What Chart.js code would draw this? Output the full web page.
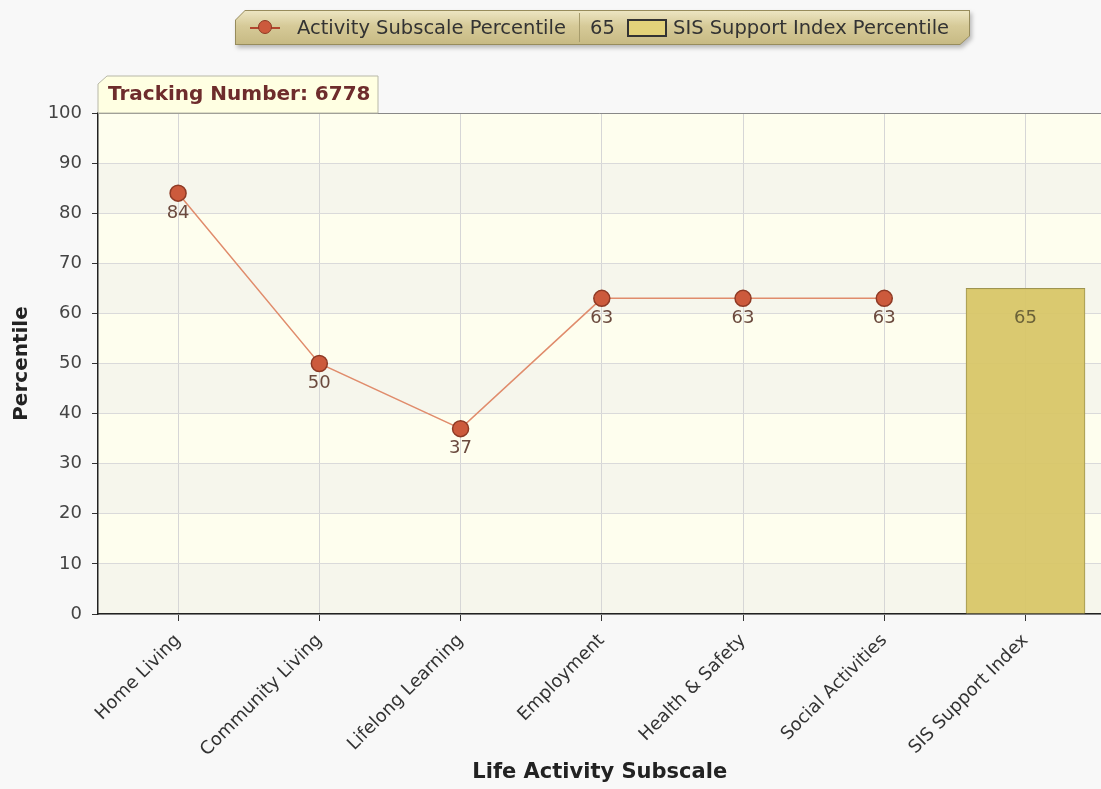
<!DOCTYPE html>
<html>
<head>
<meta charset="utf-8">
<script src="https://cdn.jsdelivr.net/npm/chart.js@4/dist/chart.umd.min.js"></script>
<style>
  body { margin: 0; background: #f8f8f8; font-family: "DejaVu Sans", sans-serif; overflow: hidden; }
  #wrap { position: relative; width: 1101px; height: 789px; overflow: hidden; }
  #lgshadow { position: absolute; left: 235px; top: 10px; width: 735px; height: 35px; filter: drop-shadow(2px 3px 2px rgba(0,0,0,0.25)); }
  #lgouter {
    position: absolute; left: 0; top: 0; width: 735px; height: 35px; background: #978c5c;
    clip-path: polygon(10px 0, 100% 0, 100% 26px, 725px 100%, 0 100%, 0 10px);
  }
  #legend {
    position: absolute; left: 1px; top: 1px; width: 733px; height: 33px;
    background: linear-gradient(#ece5c2, #d6ca98 45%, #c7ba84);
    clip-path: polygon(9px 0, 100% 0, 100% 25px, 724px 100%, 0 100%, 0 9px);
    color: #333; font-size: 19.5px; line-height: 33px; white-space: nowrap;
  }
  #legend span { position: absolute; top: 0; }
  #legend .sep { position: absolute; top: 2px; left: 343px; width: 1px; height: 29px; background: #a79c6c; }
  #legend .mline { position: absolute; top: 16px; left: 14px; width: 30px; height: 2px; background: #b0472e; }
  #legend .mdot { position: absolute; top: 9px; left: 22px; width: 14px; height: 14px; border-radius: 50%; background: #cc5a3c; border: 1px solid #8e3a25; box-sizing: border-box; }
  #legend .box { position: absolute; top: 8px; left: 391px; width: 36px; height: 14px; background: #e3d27a; border: 2px solid #333; }
</style>
</head>
<body>
<div id="wrap">
  <canvas id="chart" width="1111" height="789"></canvas>
  <div id="lgshadow"><div id="lgouter"><div id="legend"></div></div></div>
</div>
<script>
var categories = ['Home Living', 'Community Living', 'Lifelong Learning', 'Employment', 'Health & Safety', 'Social Activities', 'SIS Support Index'];
var activityValues = [84, 50, 37, 63, 63, 63];
var supportIndexValue = 65;
var yTicks = [0, 10, 20, 30, 40, 50, 60, 70, 80, 90, 100];
var trackingText = 'Tracking Number: 6778';
var lineLabel = 'Activity Subscale Percentile';
var barLabel = 'SIS Support Index Percentile';

var FONT = '"DejaVu Sans", sans-serif';

// legend (html)
var lg = document.getElementById('legend');
lg.innerHTML =
  '<div class="mline"></div><div class="mdot"></div>' +
  '<span style="left:61px">' + lineLabel + '</span>' +
  '<div class="sep"></div>' +
  '<span style="left:354px">' + supportIndexValue + '</span>' +
  '<div class="box"></div>' +
  '<span style="left:437px">' + barLabel + '</span>';

var linePoints = activityValues.map(function (v, i) { return { x: i, y: v }; });
var barPoints = [{ x: categories.length - 1, y: supportIndexValue }];

var decor = {
  id: 'decor',
  beforeDraw: function (chart) {
    var ctx = chart.ctx, a = chart.chartArea, y = chart.scales.y;
    ctx.save();
    ctx.fillStyle = '#f8f8f8';
    ctx.fillRect(0, 0, chart.width, chart.height);
    for (var i = 0; i < yTicks.length - 1; i++) {
      var top = y.getPixelForValue(yTicks[i + 1]);
      var bot = y.getPixelForValue(yTicks[i]);
      ctx.fillStyle = (i % 2 === 1) ? '#fefeee' : '#f6f6ec';
      ctx.fillRect(a.left, top, a.right - a.left, bot - top);
    }
    ctx.restore();
  },
  afterDraw: function (chart) {
    var ctx = chart.ctx, a = chart.chartArea;
    ctx.save();
    ctx.strokeStyle = '#888';
    ctx.lineWidth = 1;
    ctx.beginPath();
    ctx.moveTo(a.left, a.top + 0.5);
    ctx.lineTo(a.right, a.top + 0.5);
    ctx.stroke();
    // tracking number tab
    ctx.beginPath();
    ctx.moveTo(a.left, a.top);
    ctx.lineTo(a.left, a.top - 29);
    ctx.lineTo(a.left + 9, a.top - 37);
    ctx.lineTo(a.left + 280, a.top - 37);
    ctx.lineTo(a.left + 280, a.top);
    ctx.closePath();
    ctx.fillStyle = '#ffffe2';
    ctx.fill();
    ctx.strokeStyle = '#b8b8a8';
    ctx.stroke();
    ctx.fillStyle = '#6e2c2c';
    ctx.font = 'bold 20px ' + FONT;
    ctx.textBaseline = 'middle';
    ctx.fillText(trackingText, a.left + 10, a.top - 18);
    ctx.restore();
  },
  afterDatasetsDraw: function (chart) {
    var ctx = chart.ctx;
    ctx.save();
    ctx.font = '18px ' + FONT;
    ctx.textAlign = 'center';
    ctx.textBaseline = 'middle';
    chart.getDatasetMeta(1).data.forEach(function (pt, i) {
      ctx.fillStyle = '#6b4a3e';
      ctx.fillText(activityValues[i], pt.x, pt.y + 20);
    });
    chart.getDatasetMeta(0).data.forEach(function (bar) {
      ctx.fillStyle = '#6b6238';
      ctx.fillText(supportIndexValue, bar.x, bar.y + 30);
    });
    ctx.restore();
  }
};

new Chart(document.getElementById('chart'), {
  data: {
    datasets: [
      {
        type: 'bar',
        label: barLabel,
        data: barPoints,
        backgroundColor: 'rgba(216,198,104,0.95)',
        borderColor: '#9e9450',
        borderWidth: 1,
        barThickness: 119,
        order: 2
      },
      {
        type: 'line',
        label: lineLabel,
        data: linePoints,
        borderColor: '#e08c6c',
        borderWidth: 1.5,
        pointRadius: 8,
        pointHoverRadius: 8,
        pointBackgroundColor: '#cc5a3c',
        pointBorderColor: '#8e3a25',
        pointBorderWidth: 1.5,
        order: 1
      }
    ]
  },
  options: {
    responsive: false,
    animation: false,
    layout: { padding: { top: 113, left: 0, right: 0, bottom: 0 } },
    plugins: { legend: { display: false }, title: { display: false }, tooltip: { enabled: false } },
    scales: {
      x: {
        type: 'linear',
        min: -0.567,
        max: 6.538,
        offset: false,
        afterBuildTicks: function (s) { s.ticks = categories.map(function (c, i) { return { value: i }; }); },
        afterFit: function (s) { s.height = 175; s.paddingLeft = 0; s.paddingRight = 0; },
        ticks: {
          autoSkip: false,
          minRotation: 45,
          maxRotation: 45,
          padding: 9,
          color: '#333',
          font: { family: FONT, size: 18 },
          callback: function (v) { return categories[v]; }
        },
        grid: { offset: false, color: '#d6d6d6', tickColor: '#333', tickLength: 7, lineWidth: 1 },
        border: { color: '#222', width: 1.5 },
        title: {
          display: true,
          text: 'Life Activity Subscale',
          color: '#222',
          font: { family: FONT, size: 21, weight: 'bold' },
          padding: { top: 0, bottom: 4 }
        }
      },
      y: {
        min: 0,
        max: 100,
        afterBuildTicks: function (s) { s.ticks = yTicks.map(function (v) { return { value: v }; }); },
        afterFit: function (s) { s.width = 98; },
        ticks: {
          padding: 10,
          color: '#444',
          font: { family: FONT, size: 18 }
        },
        grid: { color: '#dadada', tickColor: '#333', tickLength: 6 },
        border: { color: '#222', width: 1.5 },
        title: {
          display: true,
          text: 'Percentile',
          color: '#222',
          font: { family: FONT, size: 20, weight: 'bold' },
          padding: { top: 10, bottom: 0 }
        }
      }
    }
  },
  plugins: [decor]
});
</script>
</body>
</html>
